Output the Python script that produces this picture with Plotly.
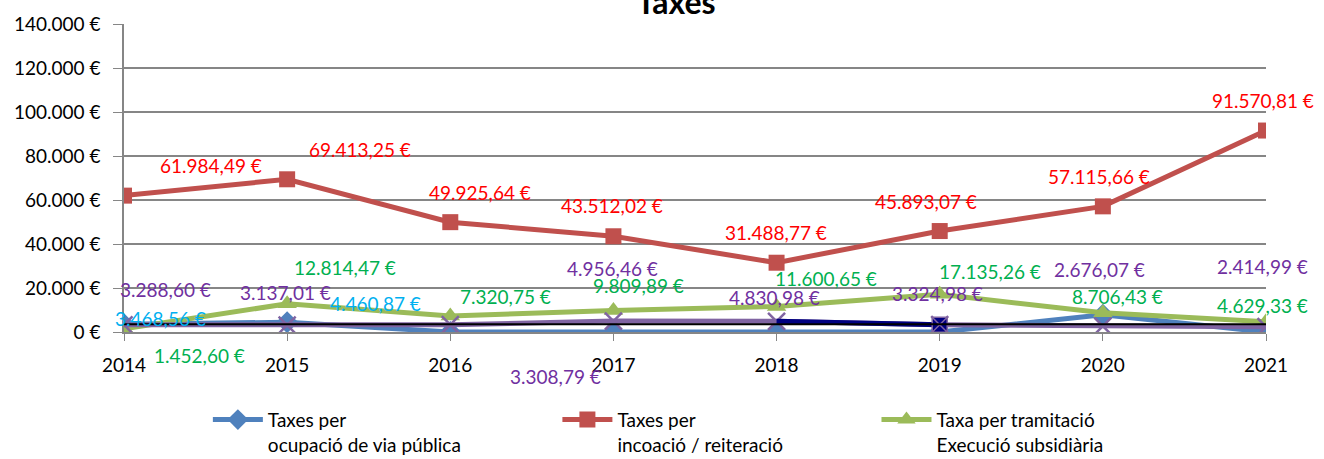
import plotly.graph_objects as go

# data
years = [2014, 2015, 2016, 2017, 2018, 2019, 2020, 2021]
via_publica = [3468.56, 4460.87, 0, 0, 0, 0, 7800, 0]
incoacio = [61984.49, 69413.25, 49925.64, 43512.02, 31488.77, 45893.07, 57115.66, 91570.81]
tramitacio = [1452.60, 12814.47, 7320.75, 9809.89, 11600.65, 17135.26, 8706.43, 4629.33]
altres = [3288.60, 3137.01, 3308.79, 4956.46, 4830.98, 3324.98, 2676.07, 2414.99]
altres_2019 = [None, None, None, None, 4830.98, 3324.98, None, None]
linia_negra = [3500, 3500, 3500, 3500, 3500, 3500, 3500, 3500]

y_ticks = [0, 20000, 40000, 60000, 80000, 100000, 120000, 140000]
y_labels = ["0 €", "20.000 €", "40.000 €", "60.000 €", "80.000 €", "100.000 €", "120.000 €", "140.000 €"]

# label offsets (px) from each point, like excel left them
off_via = [(36, -6), (88, -19)]
off_inc = [(87, -30), (73, -30), (30, -30), (-1, -31), (-1, -30), (-14, -30), (-4, -30), (-3, -30)]
off_tra = [(75, 27), (58, -36), (55, -19), (25, -25), (49, -28), (50, -23), (15, -16), (-4, -16)]
off_alt = [(41, -35), (-2, -33), (105, 52), (-1, -53), (-2, -24), (-2, -31), (-3, -57), (-4, -60)]

FONT = "Lato, 'Open Sans', sans-serif"


def euro(v):
    s = f"{v:,.2f}".replace(",", "X").replace(".", ",").replace("X", ".")
    return s + " €"


fig = go.Figure()

fig.add_trace(go.Scatter(x=years, y=via_publica, name="Taxes per<br>ocupació de via pública",
                         mode="lines+markers", line=dict(color="#4F81BD", width=5),
                         marker=dict(symbol="diamond", size=17, color="#4F81BD"), legend="legend"))
fig.add_trace(go.Scatter(x=years, y=incoacio, name="Taxes per<br>incoació / reiteració",
                         mode="lines+markers", line=dict(color="#C0504D", width=5),
                         marker=dict(symbol="square", size=16, color="#C0504D"), legend="legend2"))
fig.add_trace(go.Scatter(x=years, y=tramitacio, name="Taxa per tramitació<br>Execució subsidiària",
                         mode="lines+markers", line=dict(color="#9BBB59", width=5),
                         marker=dict(symbol="triangle-up", size=17, color="#9BBB59"), legend="legend3"))
fig.add_trace(go.Scatter(x=years, y=altres, mode="lines+markers", showlegend=False,
                         line=dict(color="#8064A2", width=5),
                         marker=dict(symbol="x-thin", size=17, line=dict(color="#8064A2", width=2.5))))
fig.add_trace(go.Scatter(x=years, y=altres_2019, mode="lines", showlegend=False,
                         line=dict(color="#000080", width=5)))
fig.add_trace(go.Scatter(x=[2019], y=[3324.98], mode="markers", showlegend=False,
                         marker=dict(symbol="square-x", size=15, color="#000080",
                                     line=dict(color="#8064A2", width=1.5))))
fig.add_trace(go.Scatter(x=years, y=linia_negra, mode="lines", showlegend=False,
                         line=dict(color="#000000", width=2)))

for vals, offs, col in [(via_publica, off_via, "#00B0F0"), (incoacio, off_inc, "#FF0000"),
                        (tramitacio, off_tra, "#00B050"), (altres, off_alt, "#7030A0")]:
    for yr, v, (dx, dy) in zip(years, vals, offs):
        fig.add_annotation(x=yr, y=v, text=euro(v), showarrow=False, xshift=dx, yshift=-dy,
                           font=dict(family=FONT, size=19, color=col))

leg = dict(xref="container", yref="container", yanchor="top", orientation="h",
           valign="top", itemwidth=50, font=dict(size=19))
fig.update_layout(
    width=1324, height=459,
    margin=dict(l=124, r=58, t=22, b=127),
    paper_bgcolor="white", plot_bgcolor="white",
    font=dict(family=FONT, size=19, color="black"),
    title=dict(text="<b>Taxes</b>", x=0.5106, xanchor="center", y=0.9935, yanchor="middle",
               yref="container", font=dict(family=FONT, size=32, color="black")),
    legend=dict(x=0.157, y=0.127, **leg),
    legend2=dict(x=0.421, y=0.127, **leg),
    legend3=dict(x=0.662, y=0.127, **leg),
)
fig.update_xaxes(range=[2014, 2021], tickvals=years, showgrid=False, zeroline=False,
                 showline=True, linecolor="#868686", linewidth=1.5,
                 ticks="outside", ticklen=7, tickcolor="#868686", ticklabelstandoff=8)
fig.update_yaxes(range=[0, 140000], tickvals=y_ticks, ticktext=y_labels,
                 showgrid=True, gridcolor="#868686", gridwidth=1.5, zeroline=False,
                 showline=True, linecolor="#868686", linewidth=1.5,
                 ticks="outside", ticklen=9, tickcolor="#868686", ticklabelstandoff=9)

fig.write_html("out.html", config={"displayModeBar": False},
               post_script="document.body.style.margin='0px';")
